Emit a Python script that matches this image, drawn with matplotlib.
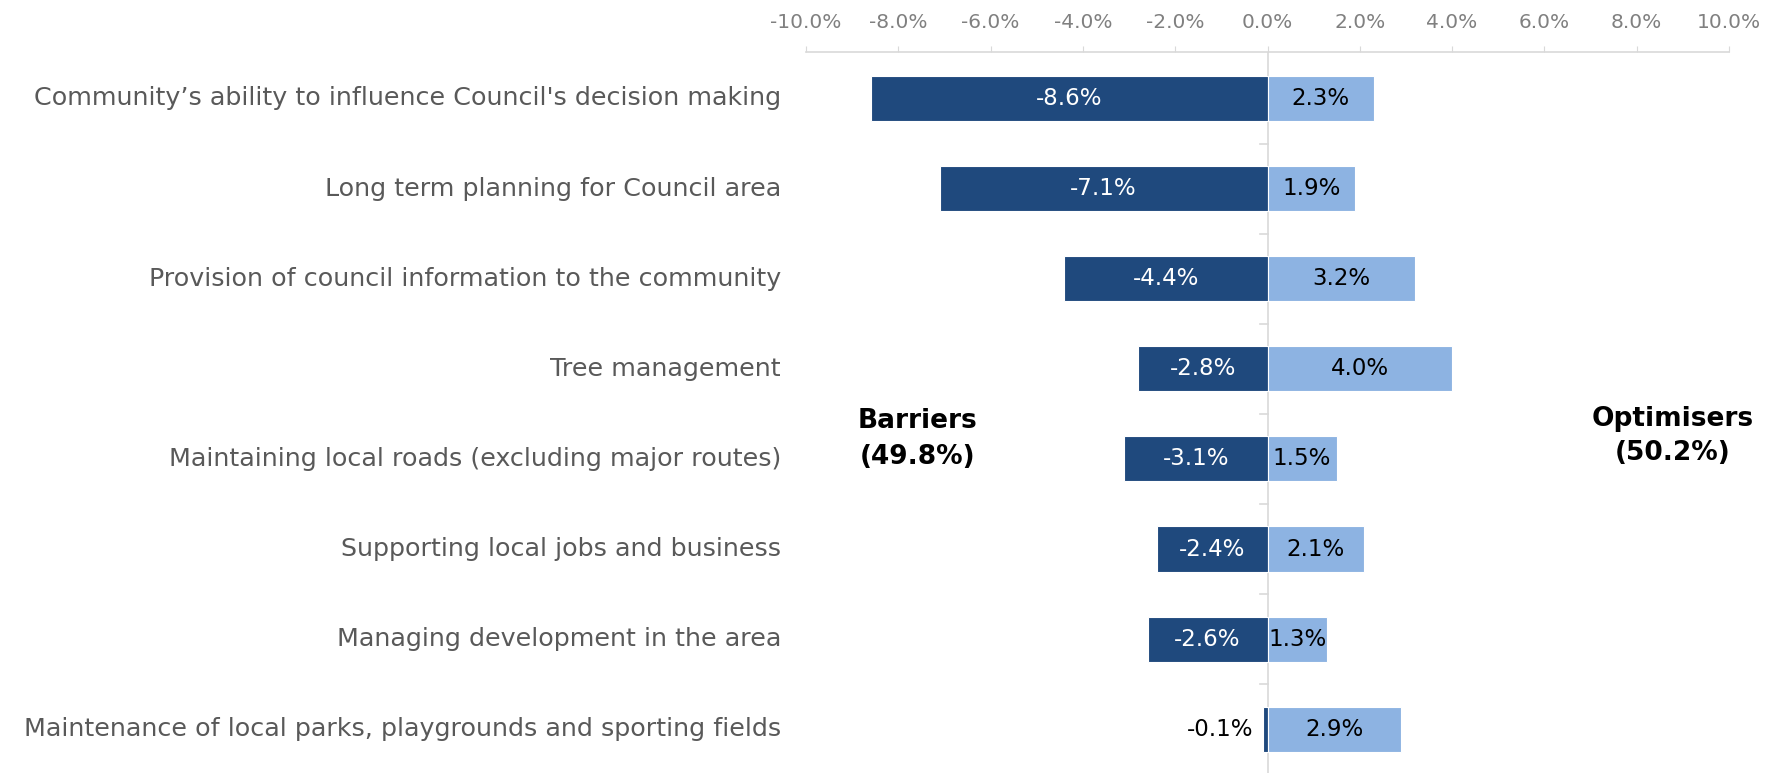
import matplotlib.pyplot as plt
import numpy as np

# data
categories = ["Community\u2019s ability to influence Council's decision making",
              "Long term planning for Council area",
              "Provision of council information to the community",
              "Tree management",
              "Maintaining local roads (excluding major routes)",
              "Supporting local jobs and business",
              "Managing development in the area",
              "Maintenance of local parks, playgrounds and sporting fields"]
barriers = [-8.6, -7.1, -4.4, -2.8, -3.1, -2.4, -2.6, -0.1]
optimisers = [2.3, 1.9, 3.2, 4.0, 1.5, 2.1, 1.3, 2.9]
xticks = [-10, -8, -6, -4, -2, 0, 2, 4, 6, 8, 10]

dark = '#1f497d'
light = '#8db3e2'
grey = '#595959'

plt.rcParams['font.family'] = ['DejaVu Sans']

fig = plt.figure(figsize=(17.87, 7.73), dpi=100)
ax = fig.add_axes([806/1787, 0.0, (1729-806)/1787, (773-52)/773])

y = np.arange(len(categories))
ax.barh(y, barriers, height=0.5, color=dark, edgecolor='white', linewidth=0.8, zorder=2)
ax.barh(y, optimisers, height=0.5, color=light, edgecolor='white', linewidth=0.8, zorder=2)

for yi, b, o in zip(y, barriers, optimisers):
    if abs(b) > 1:
        ax.text(b/2, yi, f"{b:.1f}%", ha='center', va='center', color='white', fontsize=16.5, zorder=3)
    else:
        ax.text(b - 0.2, yi, f"{b:.1f}%", ha='right', va='center', color='black', fontsize=16.5, zorder=3)
    ax.text(o/2, yi, f"{o:.1f}%", ha='center', va='center', color='black', fontsize=16.5, zorder=3)

ax.set_xlim(-10, 10)
ax.set_ylim(7.486, -0.516)
ax.xaxis.tick_top()
ax.set_xticks(xticks)
ax.set_xticklabels([f"{t:.1f}%" for t in xticks], color='#808080', fontsize=14.5)
ax.tick_params(axis='x', length=4.5, color='#d9d9d9', pad=10)
for s in ['right', 'bottom', 'left']:
    ax.spines[s].set_visible(False)
ax.spines['top'].set_color('#d9d9d9')
ax.spines['top'].set_linewidth(1.2)
ax.axvline(0, color='#d9d9d9', lw=1.2, zorder=1)

# small ticks between categories on the zero line
ax.set_yticks([])
for yb in np.arange(0.5, len(categories) - 0.5 + 1, 1.0):
    ax.plot([-0.17, 0], [yb, yb], color='#d9d9d9', lw=1.2, zorder=1, clip_on=False)

for yi, c in zip(y, categories):
    fig.text(781/1787, 1 - (98.5 + 90.1*yi)/773, c, ha='right', va='center', color=grey, fontsize=18.3)

fig.text(918/1787, 1 - 439/773, "Barriers\n(49.8%)", ha='center', va='center',
         fontsize=19, fontweight='bold', color='black', linespacing=1.45)
fig.text(1673/1787, 1 - 436/773, "Optimisers\n(50.2%)", ha='center', va='center',
         fontsize=19, fontweight='bold', color='black', linespacing=1.45)

fig.savefig('out.png', dpi=100)
